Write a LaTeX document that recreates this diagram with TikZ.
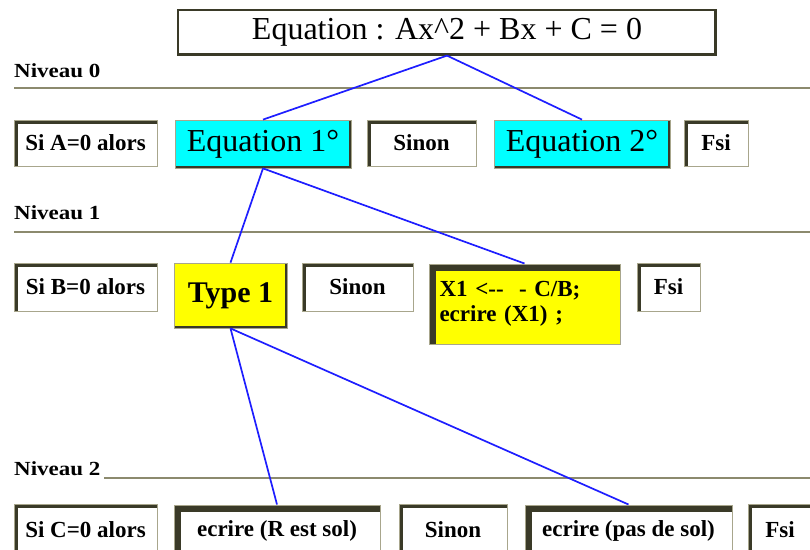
\documentclass[tikz,border=0pt]{standalone}
\usepackage{fontspec}
\setmainfont{Liberation Serif}
\newfontfamily\widefont[FakeStretch=1.15]{Liberation Serif}
\usetikzlibrary{positioning}
\definecolor{cdark}{RGB}{58,58,40}
\definecolor{cedge}{RGB}{168,166,140}
\definecolor{crule}{RGB}{140,138,110}
\definecolor{clink}{RGB}{30,30,255}
\definecolor{ccyan}{RGB}{0,255,255}
\definecolor{cyel}{RGB}{255,255,0}

\begin{document}
\begin{tikzpicture}[
  x=1pt,y=-1pt,
  base/.style={rectangle,inner sep=0pt,font=\bfseries\fontsize{23}{25}\selectfont},
  sunk/.style={base,fill=white,draw=cedge,line width=1pt,
    path picture={\draw[cdark,line width=#1]
      (path picture bounding box.south west) -- (path picture bounding box.north west)
      -- (path picture bounding box.north east);}},
  sunk/.default=8pt,
  raised/.style={base,fill=#1,draw=cedge,line width=0.8pt,
    path picture={\draw[cdark,line width=5pt]
      (path picture bounding box.south west) -- (path picture bounding box.south east)
      -- (path picture bounding box.north east);}},
  topbox/.style={raised=white,draw=cdark,line width=1.2pt,
    font=\fontsize{32}{36}\selectfont},
  eqbox/.style={raised=ccyan,minimum width=176,minimum height=48,
    font=\fontsize{32}{36}\selectfont},
  niv/.style={anchor=west,inner sep=0pt,font=\widefont\bfseries\fontsize{20}{22}\selectfont},
  rule/.style={crule,line width=1.6pt},
  link/.style={clink,line width=1.7pt},
]
\clip (0,0) rectangle (810,549);
% --- niveau 0 ---
\node[topbox,minimum width=538,minimum height=45] (eq) at (447,32.5)
  {Equation : Ax\textasciicircum2 + Bx + C = 0};
\node[niv] (niv0) at (14,71) {Niveau 0};
\draw[rule] (14,88) -- (810,88);
\node[sunk,minimum width=143,minimum height=46] (siA) at (85.5,143) {Si A=0 alors};
\node[eqbox] (eq1) at (263,144) {Equation 1°};
\node[sunk,minimum width=109,minimum height=46] (sinon0) at (421.5,143) {Sinon};
\node[eqbox] (eq2) at (582,144) {Equation 2°};
\node[sunk,minimum width=64,minimum height=46] (fsi0) at (716,143) {Fsi};
% --- niveau 1 ---
\node[niv] (niv1) at (14,213) {Niveau 1};
\draw[rule] (14,232) -- (810,232);
\node[sunk,minimum width=143,minimum height=48] (siB) at (85.5,287) {Si B=0 alors};
\node[raised=cyel,minimum width=113,minimum height=65,
  font=\bfseries\fontsize{30}{34}\selectfont] (type1) at (230.5,295.5) {Type 1};
\node[sunk,minimum width=111,minimum height=48] (sinon1) at (357.5,287) {Sinon};
\node[sunk=14pt,fill=cyel,minimum width=191,minimum height=80,text width=170,align=left]
  (x1) at (524.5,304) {X1 <-{}- \ - C/B;\\ecrire (X1) ;};
\node[sunk,minimum width=63,minimum height=48] (fsi1) at (668.5,287) {Fsi};
% --- niveau 2 ---
\node[niv] (niv2) at (14,469) {Niveau 2};
\draw[rule] (104,478) -- (810,478);
\node[sunk,minimum width=143,minimum height=52] (siC) at (85.5,530) {Si C=0 alors};
\node[sunk=14pt,minimum width=206,minimum height=52] (ecrR) at (277,531) {ecrire (R est sol)};
\node[sunk,minimum width=108,minimum height=52] (sinon2) at (453,530) {Sinon};
\node[sunk=14pt,minimum width=207,minimum height=52] (ecrP) at (628.5,531) {ecrire (pas de sol)};
\node[sunk,minimum width=64,minimum height=52] (fsi2) at (780,530) {Fsi};
% --- liens ---
\draw[link] (eq.south) -- (eq1.north);
\draw[link] (eq.south) -- (eq2.north);
\draw[link] (eq1.south) -- (type1.north);
\draw[link] (eq1.south) -- (x1.north);
\draw[link] (type1.south) -- (ecrR.north);
\draw[link] (type1.south) -- (ecrP.north);
\end{tikzpicture}
\end{document}
